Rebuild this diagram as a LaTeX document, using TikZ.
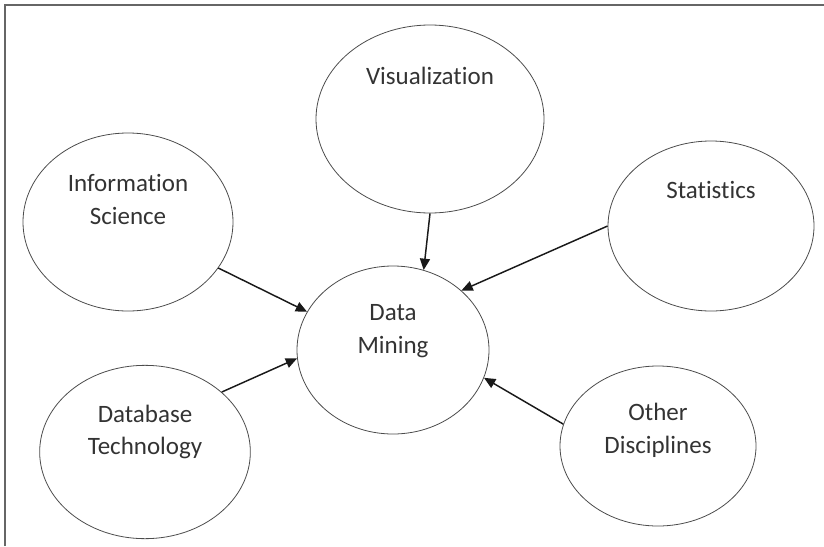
\documentclass[tikz,border=0pt]{standalone}
\usepackage{fontspec}
\setmainfont{Carlito}[Ligatures=NoCommon]
\usepackage{tikz}
\usetikzlibrary{arrows.meta}
\usetikzlibrary{shapes.geometric}
\usetikzlibrary{positioning}

\begin{document}
\begin{tikzpicture}[-{Triangle[length=8.5pt,width=7.5pt]},auto,on grid,semithick]
 				 \tikzstyle{vert}=[draw=black!70, ellipse, inner sep=0pt, line width=0.6pt, -]
 				 \tikzstyle{lbl}=[font=\fontsize{18.75}{24.5}\selectfont, text=black!80, align=center]
 				 \tikzstyle{arr}=[line width=1.1pt, color=black!90]
 				 \useasboundingbox (0,0) rectangle (618pt,-409.5pt);
 				 % frame
 				 \draw[-, black!60, line width=1.1pt] (3.75pt,-409.5pt) -- (3.75pt,-3.75pt) -- (618pt,-3.75pt);
 					 \node[vert, minimum width=144pt, minimum height=126pt, label={[lbl,yshift=14pt]center:{Data\\Mining}}] (DM) at (294.75pt,-262.5pt) {};
  					 \node[vert, minimum width=171pt, minimum height=141pt, label={[lbl,yshift=32pt]center:{Visualization}}] (VIS) [above right=173.25pt and 27.75pt of DM] {};
  					 \node[vert, minimum width=157.5pt, minimum height=133.5pt, label={[lbl,yshift=17pt]center:{Information\\Science}}] (INF) [above left=96pt and 198.75pt of DM] {};
  					 \node[vert, minimum width=154.5pt, minimum height=127.5pt, label={[lbl,yshift=27pt]center:{Statistics}}] (STA) [above right=93pt and 238.5pt of DM] {};
					\node[vert, minimum width=158pt, minimum height=130pt, label={[lbl,yshift=15pt]center:{Database\\Technology}}] (DB) [below left=76.5pt and 186pt of DM] {};
					\node[vert, minimum width=147pt, minimum height=120pt, label={[lbl,yshift=12pt]center:{Other\\Disciplines}}] (OTH) [below right=72pt and 198.75pt of DM] {};
 					  \path[arr]
 					 			(VIS.south) edge (DM.69.5)
 					 			(STA.west) edge (DM.41)
 					 			(INF.-27) edge (DM.156.5)
 					 			(DB.38.4) edge (DM.185.4)
 					 			(OTH.167) edge (DM.-17);
				\end{tikzpicture}
\end{document}
